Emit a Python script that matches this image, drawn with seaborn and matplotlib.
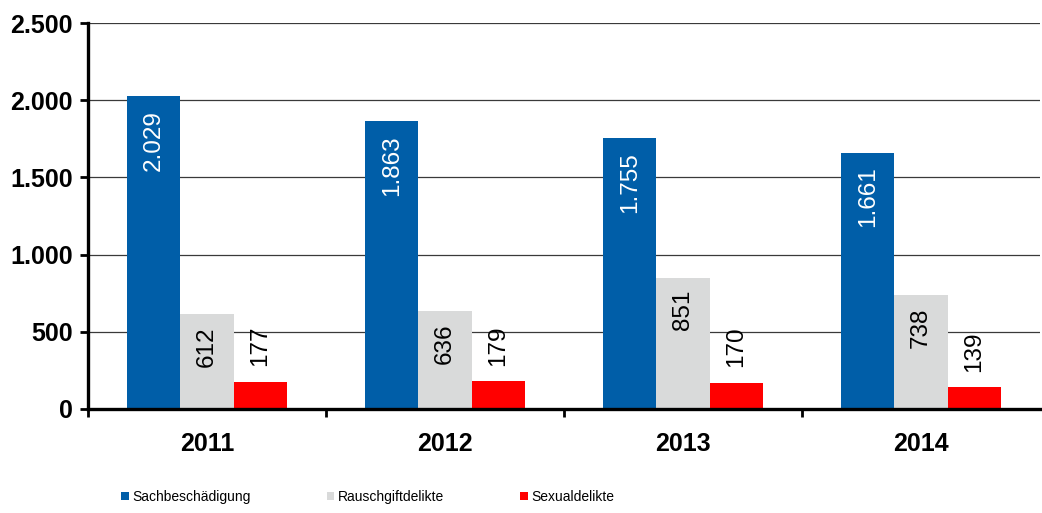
import matplotlib
matplotlib.use('Agg')
import matplotlib.pyplot as plt
from matplotlib.patches import Patch
from matplotlib.ticker import FuncFormatter, FixedLocator
import seaborn as sns
import pandas as pd

# data
jahre = ['2011', '2012', '2013', '2014']
delikte = ['Sachbeschädigung', 'Rauschgiftdelikte', 'Sexualdelikte']
sachbeschaedigung = [2029, 1863, 1755, 1661]
rauschgift = [612, 636, 851, 738]
sexual = [177, 179, 170, 139]
farben = ['#005EA8', '#D9DADA', '#FF0000']

sns.set_style('white')
plt.rcParams['font.family'] = ['Liberation Sans', 'DejaVu Sans']
plt.rcParams['text.color'] = 'black'
plt.rcParams['xtick.color'] = 'black'
plt.rcParams['ytick.color'] = 'black'

df = pd.DataFrame({
    'Jahr': jahre * 3,
    'Delikt': [d for d in delikte for _ in jahre],
    'Anzahl': sachbeschaedigung + rauschgift + sexual,
})


def punkt(v):
    return f'{int(v):,}'.replace(',', '.')


fig = plt.figure(figsize=(10.42, 5.13), dpi=100)
ax = fig.add_axes([0.0845, 0.203, 0.9135, 0.752])

sns.barplot(data=df, x='Jahr', y='Anzahl', hue='Delikt', hue_order=delikte,
            palette=farben, width=0.67, saturation=1, linewidth=0,
            legend=False, ax=ax)

ax.set_ylim(0, 2500)
ax.set_xlim(-0.5, 3.5)
ax.set_yticks(range(0, 2501, 500))
ax.yaxis.set_major_formatter(FuncFormatter(lambda v, p: punkt(v)))
ax.grid(axis='y', color='#3a3a3a', linewidth=0.9)
ax.set_axisbelow(True)

for side in ['top', 'right']:
    ax.spines[side].set_visible(False)
for side in ['left', 'bottom']:
    ax.spines[side].set_linewidth(2.4)
    ax.spines[side].set_color('black')

ax.tick_params(axis='y', which='major', left=True, direction='out', length=6,
               width=2, labelsize=18, pad=5)
ax.tick_params(axis='x', which='major', bottom=False, labelsize=18, pad=13)
ax.xaxis.set_minor_locator(FixedLocator([-0.5, 0.5, 1.5, 2.5]))
ax.tick_params(axis='x', which='minor', bottom=True, direction='out',
               length=6, width=2)
for lbl in ax.get_xticklabels() + ax.get_yticklabels():
    lbl.set_fontweight('bold')
ax.set_xlabel('')
ax.set_ylabel('')

# value labels
for i, cont in enumerate(ax.containers):
    for bar in cont:
        h = bar.get_height()
        xc = bar.get_x() + bar.get_width() / 2
        if i == 0:
            ax.annotate(punkt(h), (xc, h), xytext=(0, -10), textcoords='offset points',
                        ha='center', va='top', rotation=90, color='white', fontsize=17.5)
        elif i == 1:
            ax.annotate(punkt(h), (xc, h), xytext=(0, -9), textcoords='offset points',
                        ha='center', va='top', rotation=90, color='black', fontsize=17.5)
        else:
            ax.annotate(punkt(h), (xc, h), xytext=(0, 11), textcoords='offset points',
                        ha='center', va='bottom', rotation=90, color='black', fontsize=17.5)

handles = [Patch(facecolor=c, edgecolor='none') for c in farben]
fig.legend(handles, delikte, loc='center left', bbox_to_anchor=(0.116, 0.031),
           ncol=3, frameon=False, fontsize=10, handlelength=0.55,
           handleheight=0.55, handletextpad=0.25, columnspacing=5.5,
           borderpad=0, borderaxespad=0)

fig.savefig('out.png', dpi=100)
